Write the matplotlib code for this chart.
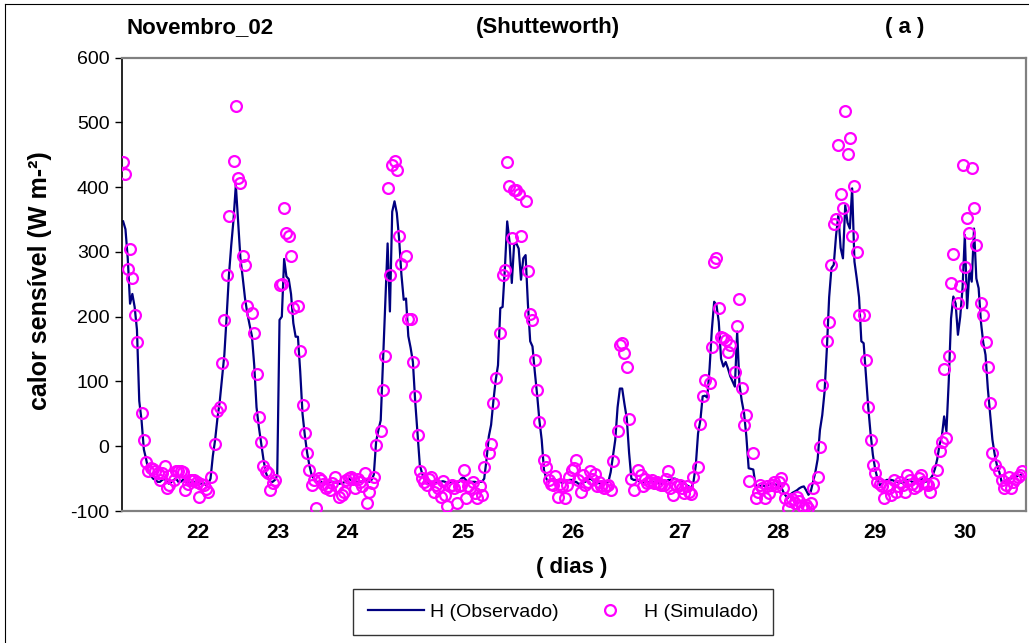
import matplotlib
matplotlib.use("Agg")
import matplotlib.pyplot as plt
import numpy as np
from matplotlib.lines import Line2D

plt.rcParams['font.family'] = ['Liberation Sans', 'DejaVu Sans']

nan = np.nan

# Fluxo de calor sensivel, dados semi-horarios (W m-2), 22 a 30 de novembro
obs_22 = [347, 335, 290, 220, 235, 215, 180, 70, 40, -5,
          -20, -38, -45, -50, -52, -55, -55, -52, -50, -55,
          -58, -55, -52, -50, -55, -55, -52, -55, -55, -57,
          -55, -55, -55, -57, -58, -57, -60, -58, -50, -15,
          10, 43, 69, 105, 141, 200, 264, 310, 350, 403,
          347, 290, 260, 228, 205, 187, 170, 125, 60, 30,
          5, -20, -40, -50, -55]
sim_22 = [438, 420, 273, 304, 259, 203, 161, nan, 52, 10,
          -24, -39, -34, -35, -38, -42, -52, -42, -31, -65,
          -60, -45, -52, -39, -39, -39, -40, -67, -58, -52,
          -52, -52, -55, -78, -58, -60, -66, -70, -47, nan,
          3, 54, 60, 128, 195, 265, 356, nan, 441, 525,
          414, 406, 294, 280, 217, nan, 206, 175, 111, 45,
          7, -31, -39, -42, -67]

obs_23 = [-55, -52, -45, 195, 200,
          289, 262, 258, 235, 190, 169, 169, 115, 50, 17,
          -10, -30, -45, -50, -55, -55, -55, -57, -58, -57,
          -55, -55, -55, -57, -58, -57, -56, -53, -50, -52,
          -54, -55, -55, -55, -54, -50, -52, -55, -52, -44,
          7, 25, 40, 130, 220, 313, 208, 362, 378, 360,
          320, 265, 226, 228, 170, 152, 130, 69, 20, -29]
sim_23 = [-57, -52, nan, 249, 251,
          367, 329, 325, 294, 213, nan, 217, 147, 63, 20,
          -11, -37, -60, -52, -96, -49, -52, -58, -65, -62,
          -67, -57, -47, -62, -78, -75, -70, -52, -49, -47,
          -50, -65, -50, -55, -62, -42, -88, -70, -57, -47,
          2, nan, 23, 87, 139, 399, 265, 434, 440, 426,
          325, 282, nan, 294, 196, 196, 130, 77, 17, -39]

obs_25 = [-42, -52, -55, -57, -55, -55, -57, -55, -55, -54,
          -55, -57, -56, -54, -55, -55, -55, -50, -48, -52,
          -55, -55, -55, -55, -56, -55, -55, -50, -21, 15,
          33, 70, 102, 125, 213, 215, 275, 347, 316, 252,
          311, 313, 305, 257, 290, 295, 220, 162, 154, 115,
          80, 40, 10, -37, -50, -55, -52, -50, -52, -55,
          -55, -57, -55, -53, -52]
sim_25 = [-49, -55, -60, -50, -47, -70, -60, -65, -78, -54,
          -75, -93, -62, -60, -65, -88, -62, -60, -37, -80,
          -62, -65, -55, -72, -80, -62, -75, -32, nan, -11,
          3, 66, 105, nan, 175, 264, 272, 438, 402, 322,
          396, 396, 389, 325, nan, 379, 270, 204, 195, 133,
          87, 38, nan, -21, -32, -52, -58, -60, -46, -78,
          -58, -62, -80, -60, -47]

obs_26 = [-52, -55, -55, -58, -58,
          -55, -55, -52, -50, -52, -55, -57, -57, -58, -57,
          -55, -55, -40, -15, 10, 60, 89, 89, 65, 43,
          -10, -50, -52, -52, -53, -55, -56, -55, -55, -56,
          -55, -55, -56, -57, -58, -57, -55, -52, -52, -50,
          -50, -52, -55, -55, -57, -60, -62, -65, -55, -30,
          20, 40, 77, 78, 75, 120, 180, 223, 218, 192]
sim_26 = [-37, -34, -21, -52, -70,
          -45, -60, -55, -39, -50, -43, -62, -55, -62, -65,
          -62, -60, -67, -23, nan, 24, 156, 160, 144, 122,
          42, -50, -67, nan, -36, -45, -62, -50, -57, -55,
          -52, -57, -55, -58, -60, -60, -50, -39, -65, -75,
          -58, -62, -60, -65, -72, -62, -70, -74, -47, nan,
          -32, 34, 77, 102, nan, 97, 153, 284, 290, 213]

obs_28 = [135, 123, 130, 120, 108, 100, 92, 177, 95, 70,
          51, 15, -34, -35, -36, -60, -62, -62, -60, -62,
          -60, -60, -58, -58, -60, -58, -62, -70, -76, -80,
          -75, -72, -70, -68, -65, -63, -62, -68, -75, -70,
          -55, -40, -20, 25, 48, 84, 150, 230, 275, 280,
          325, 357, 306, 290, 372, 345, 336, 398, 285, 259,
          230, 162, 159, 110, 60, 20]
sim_28 = [169, 167, 164, 146, 156, nan, 115, 185, 227, 90,
          33, 48, -54, nan, -11, -80, -70, -60, -65, -80,
          -62, -72, -60, -55, -62, -55, -49, -65, -80, -96,
          -85, -82, -88, -78, -85, -93, -96, -90, -95, -88,
          -65, nan, -47, -1, 95, nan, 162, 192, 280, 343,
          351, 465, 389, 367, 518, 451, 476, 325, 402, 300,
          203, nan, 203, 133, 60, 10]

obs_30 = [-13, -35, -50, -60,
          -58, -55, -52, -52, -52, -53, -55, -55, -56, -57,
          -55, -52, -52, -55, -55, -55, -52, -50, -52, -55,
          -52, -50, -45, -35, -20, 2, 15, 46, 23, 100,
          197, 231, 220, 172, 200, 244, 326, 213, 270, 254,
          336, 259, 244, 192, 160, 141, 89, 50, 10, -13,
          -30, -40, -55, -55, -52, -50, -50, -48, -47, -46,
          -45, -43]
sim_30 = [-29, -42, -55, -58,
          -62, -80, -62, -65, -75, -52, -70, -62, -55, -60,
          -70, -44, -52, -58, -65, -62, -49, -45, -55, -58,
          -60, -70, -57, nan, -36, -8, 7, 119, 13, 139,
          252, 297, nan, 221, 248, 434, 277, 353, 329, 430,
          367, 311, nan, 221, 203, 161, 122, 66, -11, -29,
          nan, -39, -52, -65, -60, -47, -65, -55, -50, -47,
          -44, -39]

h_obs = np.array(obs_22 + obs_23 + obs_25 + obs_26 + obs_28 + obs_30, dtype=float)
h_sim = np.array(sim_22 + sim_23 + sim_25 + sim_26 + sim_28 + sim_30, dtype=float)
passo = np.arange(len(h_obs))

# rotulos dos dias no eixo de categorias
dias = ['22', '23', '24', '25', '26', '27', '28', '29', '30']
dias_pos = [32.6, 67.4, 97.4, 147.8, 195.7, 242.2, 284.8, 326.9, 366.1]

fig = plt.figure(figsize=(10.29, 6.43), dpi=100)
ax = fig.add_axes([122 / 1029, 1 - 511 / 643, 904 / 1029, 453.5 / 643])

ax.plot(passo, h_obs, color='#000080', lw=1.6, zorder=2)
ax.plot(passo, h_sim, ls='none', marker='o', ms=7.8, mfc='none',
        mec='#ff00ff', mew=1.6, zorder=3)

ax.set_xlim(-0.5, 392.6)
ax.set_ylim(-100, 600)
yt = np.arange(-100, 601, 100)
ax.set_yticks(yt)
ax.set_yticklabels([str(v) for v in yt], fontsize=14)
ax.set_xticks(dias_pos)
ax.set_xticklabels(dias, fontsize=15, fontweight='bold')
ax.tick_params(axis='x', length=0, pad=9)
ax.tick_params(axis='y', direction='out', length=5, width=1, pad=4)

for s in ['top', 'right', 'bottom']:
    ax.spines[s].set_color('#808080')
    ax.spines[s].set_linewidth(1.6)
ax.spines['left'].set_color('black')
ax.spines['left'].set_linewidth(1.2)

# titulos
fig.text(200 / 1029, 1 - 28 / 643, 'Novembro_02', fontsize=16, fontweight='bold',
         ha='center', va='center')
fig.text(548 / 1029, 1 - 28 / 643, '(Shutteworth)', fontsize=16, fontweight='bold',
         ha='center', va='center')
fig.text(905 / 1029, 1 - 28 / 643, '( a )', fontsize=16, fontweight='bold',
         ha='center', va='center')
fig.text(572 / 1029, 1 - 567 / 643, '( dias )', fontsize=16, fontweight='bold',
         ha='center', va='center')
fig.text(40 / 1029, 1 - 281 / 643, 'calor sensível (W m-²)', fontsize=18,
         fontweight='bold', rotation=90, ha='center', va='center')

handles = [Line2D([], [], color='#000080', lw=1.6),
           Line2D([], [], ls='none', marker='o', ms=7.8, mfc='none',
                  mec='#ff00ff', mew=1.6)]
leg = fig.legend(handles, ['H (Observado)', 'H (Simulado)'], ncol=2,
                 loc='center', bbox_to_anchor=(563 / 1029, 1 - 612 / 643),
                 fontsize=14, frameon=True, fancybox=False, edgecolor='black',
                 handlelength=2.9, handletextpad=0.3, columnspacing=1.2,
                 borderpad=0.75)
leg.get_frame().set_linewidth(1.0)

# moldura externa do grafico
fig.add_artist(Line2D([5 / 1029, 5 / 1029], [0, 1 - 4 / 643],
                      transform=fig.transFigure, color='black', lw=0.8))
fig.add_artist(Line2D([5 / 1029, 1], [1 - 4 / 643, 1 - 4 / 643],
                      transform=fig.transFigure, color='black', lw=0.8))

fig.savefig('out.png', dpi=100)
